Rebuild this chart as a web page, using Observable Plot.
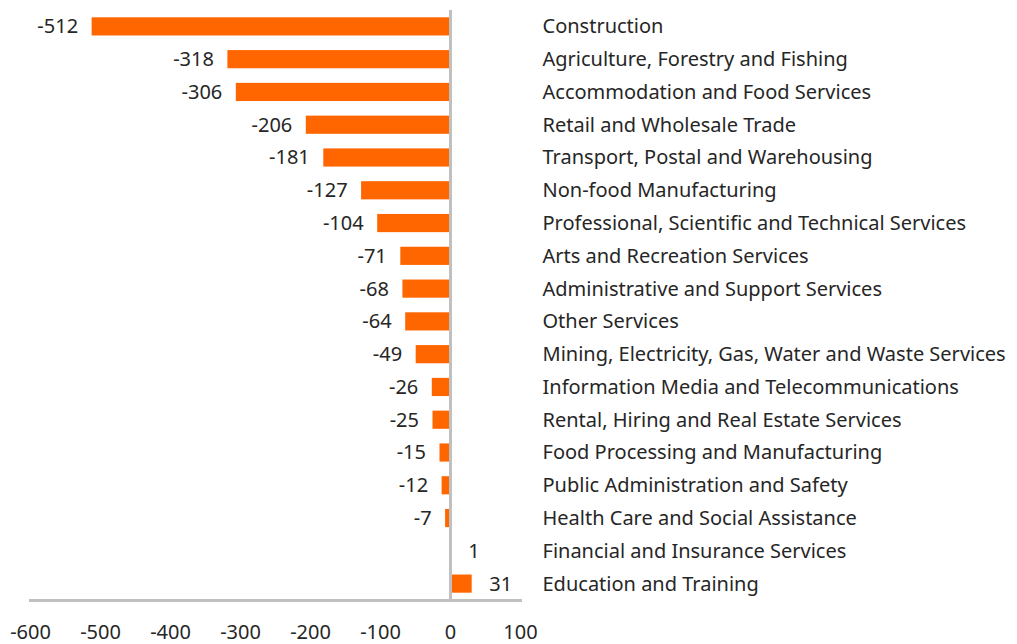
<!DOCTYPE html>
<html>
<head>
<meta charset="utf-8">
<script src="https://cdn.jsdelivr.net/npm/d3@7"></script>
<script src="https://cdn.jsdelivr.net/npm/@observablehq/plot@0.6"></script>
<style>
  html, body { margin: 0; padding: 0; background: #fff; }
  #chart svg { display: block; }
</style>
</head>
<body>
<div id="chart"></div>
<script>
const categories = [
  "Construction",
  "Agriculture, Forestry and Fishing",
  "Accommodation and Food Services",
  "Retail and Wholesale Trade",
  "Transport, Postal and Warehousing",
  "Non-food Manufacturing",
  "Professional, Scientific and Technical Services",
  "Arts and Recreation Services",
  "Administrative and Support Services",
  "Other Services",
  "Mining, Electricity, Gas, Water and Waste Services",
  "Information Media and Telecommunications",
  "Rental, Hiring and Real Estate Services",
  "Food Processing and Manufacturing",
  "Public Administration and Safety",
  "Health Care and Social Assistance",
  "Financial and Insurance Services",
  "Education and Training"
];
const values = [-512, -318, -306, -206, -181, -127, -104, -71, -68, -64, -49, -26, -25, -15, -12, -7, 1, 31];
const xTicks = [-600, -500, -400, -300, -200, -100, 0, 100];

const data = categories.map((c, i) => ({category: c, value: values[i]}));
const negData = data.filter(d => d.value < 0);
const posData = data.filter(d => d.value >= 0);
const font = "'Segoe UI', 'Noto Sans', sans-serif";
const fs = 20;
const ink = "#262626";

const chart = Plot.plot({
  width: 1017,
  height: 644,
  marginLeft: 30,
  marginRight: 497,
  marginTop: 10,
  marginBottom: 44,
  style: {fontFamily: font, fontSize: fs + "px", color: ink, background: "#fff"},
  x: {domain: [-600, 100], ticks: xTicks, label: null},
  y: {domain: categories, padding: 0, round: false, axis: null},
  marks: [
    Plot.barX(data, {x: "value", y: "category", fill: "#FF6600", insetTop: 7.3, insetBottom: 7.3}),
    Plot.ruleX([0], {stroke: "#c0c0c0", strokeWidth: 3}),
    Plot.frame({anchor: "bottom", stroke: "#c0c0c0", strokeWidth: 3}),
    Plot.axisX({ticks: xTicks, tickSize: 0, tickPadding: 24, fontSize: fs, fill: ink, label: null, tickFormat: d => String(d)}),
    Plot.text(negData, {
      x: "value", y: "category", text: d => String(d.value),
      textAnchor: "end", dx: -14, fontSize: fs, fill: ink
    }),
    Plot.text(posData, {
      x: "value", y: "category", text: d => String(d.value),
      textAnchor: "start", dx: 17, fontSize: fs, fill: ink
    }),
    Plot.text(data, {
      y: "category", text: "category", frameAnchor: "right", textAnchor: "start",
      dx: 22, fontSize: fs, fill: ink
    })
  ]
});
document.getElementById("chart").appendChild(chart);
</script>
</body>
</html>
